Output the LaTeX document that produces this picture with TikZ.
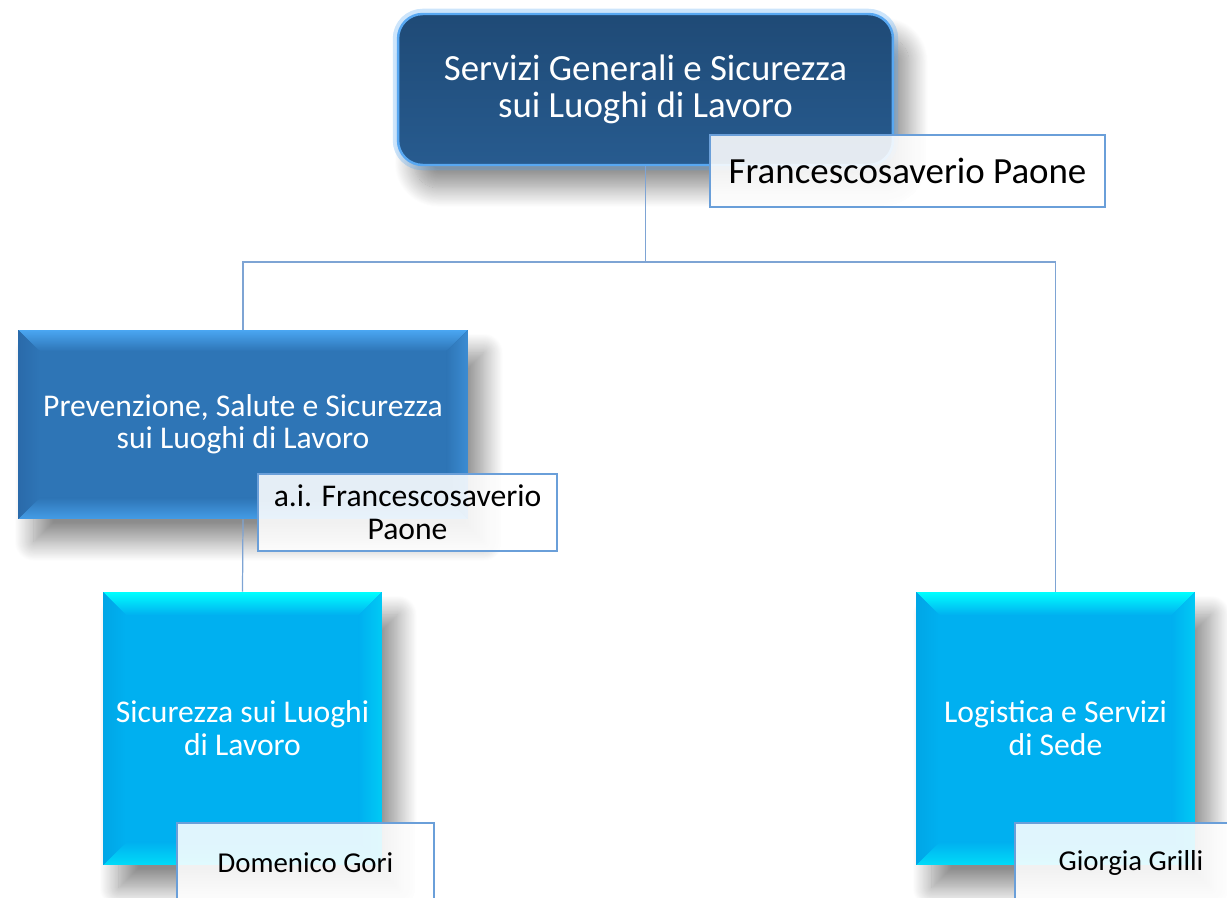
\documentclass[tikz,border=0pt]{standalone}
\usepackage{fontspec}
\setmainfont{Carlito}
\usetikzlibrary{shadows.blur}
\definecolor{topblue}{HTML}{21507E}
\definecolor{topdark}{HTML}{1F4A76}
\definecolor{toplight}{HTML}{275B8F}
\definecolor{topglow}{HTML}{58A8F2}
\definecolor{midblue}{HTML}{2E75B6}
\definecolor{midhi}{HTML}{4AA6F2}
\definecolor{midlo}{HTML}{2A6AAA}
\definecolor{lowblue}{HTML}{00B0F0}
\definecolor{lowhi}{HTML}{00FFFF}
\definecolor{lowlo}{HTML}{00A6E6}
\definecolor{namebd}{HTML}{6A9FD9}
\definecolor{linkc}{HTML}{7EA4D4}
% bevelled face: #1 bevel, #2 face, #3 top edge, #4 bottom edge, #5 side edge
\newcommand{\bevelbox}[5]{%
  \coordinate (bnw) at (path picture bounding box.north west);
  \coordinate (bne) at (path picture bounding box.north east);
  \coordinate (bsw) at (path picture bounding box.south west);
  \coordinate (bse) at (path picture bounding box.south east);
  \fill[top color=#3, bottom color=#2] (bnw) -- (bne) -- ([xshift=-#1,yshift=-#1]bne) -- ([xshift=#1,yshift=-#1]bnw) -- cycle;
  \fill[top color=#2, bottom color=#4] (bsw) -- (bse) -- ([xshift=-#1,yshift=#1]bse) -- ([xshift=#1,yshift=#1]bsw) -- cycle;
  \fill[left color=#5, right color=#2] (bnw) -- ([xshift=#1,yshift=-#1]bnw) -- ([xshift=#1,yshift=#1]bsw) -- (bsw) -- cycle;
  \fill[left color=#2, right color=#4!60!#2] (bne) -- ([xshift=-#1,yshift=-#1]bne) -- ([xshift=-#1,yshift=#1]bse) -- (bse) -- cycle;}

\begin{document}
\begin{tikzpicture}[x=0.02cm, y=0.02cm]
\tikzstyle{every node}+=[inner sep=0pt, align=center]
\tikzstyle{unit}=[rectangle, text=white, blur shadow={shadow xshift=9pt, shadow yshift=-13pt, shadow blur radius=11pt, shadow blur steps=24, shadow opacity=45}]
\tikzstyle{head}=[unit, top color=topdark, bottom color=toplight, rounded corners=14pt, draw=topglow, line width=1.4pt, preaction={draw=topglow, line width=6pt, opacity=.3}, font=\fontsize{21}{21}\selectfont]
\tikzstyle{office}=[unit, fill=midblue, path picture={\bevelbox{.42cm}{midblue}{midhi}{midhi!80!midblue}{midlo}}, font=\fontsize{18}{18.2}\selectfont]
\tikzstyle{section}=[unit, fill=lowblue, path picture={\bevelbox{.46cm}{lowblue}{lowhi}{lowhi!55!lowblue}{lowlo}}, minimum width=5.58cm, minimum height=5.46cm, font=\fontsize{18}{18.7}\selectfont]
\tikzstyle{holder}=[rectangle, draw=namebd, line width=1.1pt, fill=white, fill opacity=.88, text opacity=1, text=black]
\tikzstyle{link}=[draw=linkc, line width=0.7pt]
\clip (0,0) rectangle (1227,-898);
% boxes
\node[head, minimum width=9.9cm, minimum height=3.02cm] (gen) at (645.5,-89.5) {Servizi Generali e Sicurezza\\sui Luoghi di Lavoro};
\node[office, minimum width=9cm, minimum height=3.78cm] (prev) at (243,-424.5) {Prevenzione, Salute e Sicurezza\\sui Luoghi di Lavoro};
\node[section] (sic) at (242.5,-728.5) {Sicurezza sui Luoghi\\di Lavoro};
\node[section] (logi) at (1055.5,-728.5) {Logistica e Servizi\\di Sede};
% connectors
\coordinate (bar) at (645,-262);
\draw[link] (gen.south) -- (gen.south |- bar) -| (prev.north);
\draw[link] (gen.south |- bar) -| (logi.north);
\draw[link] (prev.south) -- (sic.north);
% names
\node[holder, minimum width=7.9cm, minimum height=1.44cm, font=\fontsize{21}{21}\selectfont] (genname) at (907.5,-171) {Francescosaverio Paone};
\node[holder, minimum width=5.98cm, minimum height=1.54cm, font=\fontsize{18}{18.7}\selectfont] (prevname) at (407.5,-512.5) {a.i. Francescosaverio\\Paone};
\node[holder, minimum width=5.14cm, minimum height=1.6cm, font=\fontsize{16.4}{17}\selectfont] (sicname) at (305.5,-863) {Domenico Gori};
\node[holder, minimum width=4.64cm, minimum height=1.6cm, font=\fontsize{16.4}{17}\selectfont] (loginame) at (1131,-863) {Giorgia Grilli};
\end{tikzpicture}
\end{document}
